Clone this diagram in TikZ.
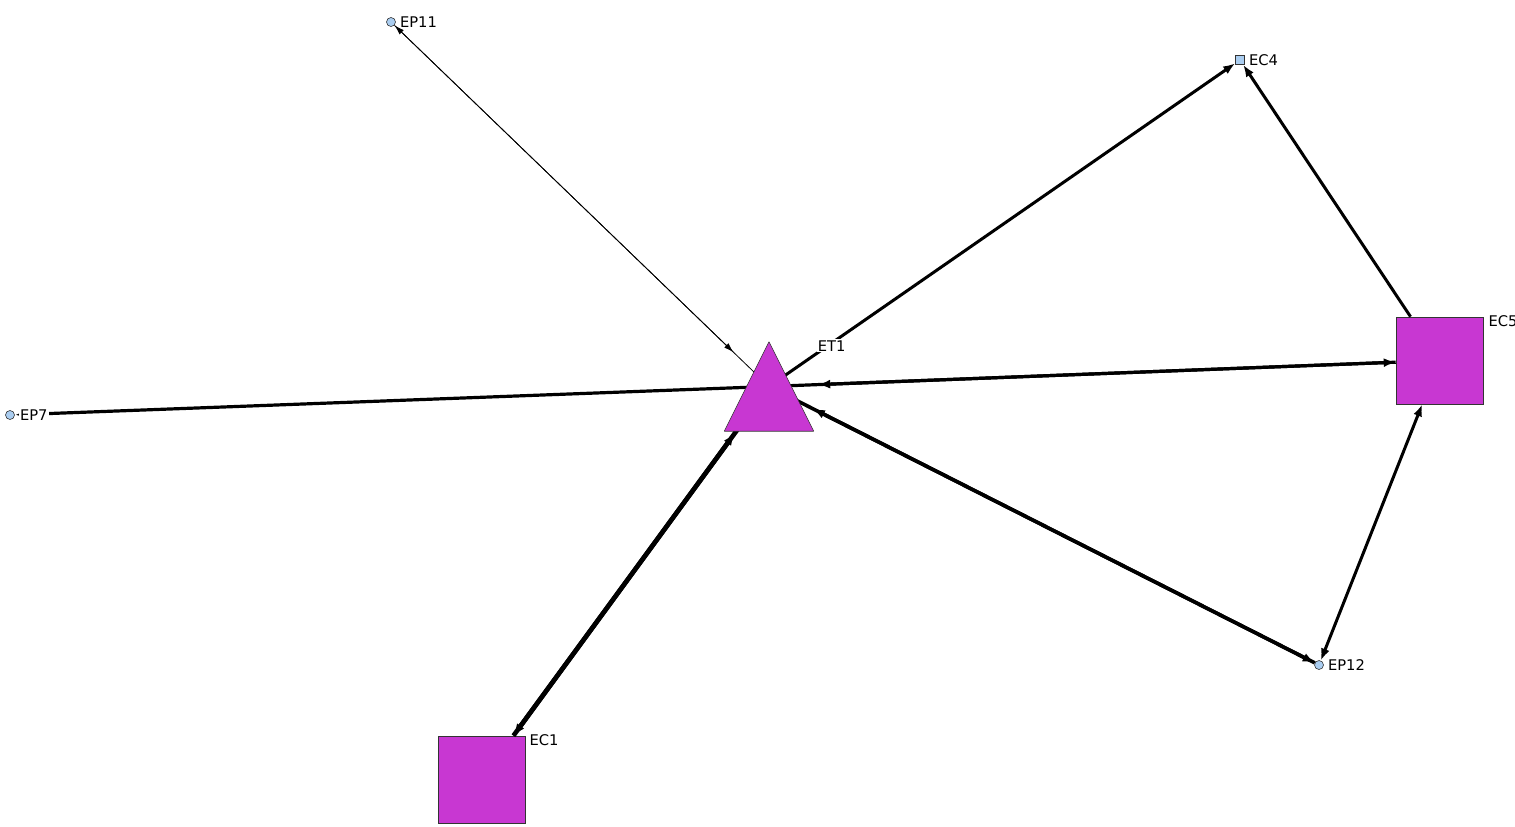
\documentclass[tikz,border=0pt]{standalone}
\usepackage{fontspec}
\setmainfont{DejaVu Sans}
\usetikzlibrary{arrows.meta, positioning}
\definecolor{actorfill}{RGB}{200,55,210}
\definecolor{pointfill}{RGB}{170,205,240}

\begin{document}
\begin{tikzpicture}[x=1pt, y=-1pt,
					>={Latex[length=12pt, width=9pt]},
					big/.style = {draw=black!80, fill=actorfill, line width=0.6pt, minimum size=87pt, inner sep=0pt},
					small/.style = {draw=black!80, fill=pointfill, line width=0.6pt, minimum size=9pt, inner sep=0pt},
					dot/.style = {small, circle},
					hub/.style = {circle, minimum size=98pt, inner sep=0pt},
					tag/.style = {fill=white, inner sep=1pt, font=\fontsize{14.7}{17}\selectfont},
					link/.style = {line width=#1}
				]

				\useasboundingbox (0,0) rectangle (1515,827);

				\node[minimum size=89pt, inner sep=0pt] (ET1box) at (769,386.5) {};
				\node[hub] (ET1) at (ET1box.center) {};
				\node[dot] (EP11) at (391,22) {};
				\node[small] (EC4) at (1240,60) {};
				\node[dot] (EP7) at (10,415) {};
				\node[dot] (EP12) at (1319,665) {};
				\node[big] (EC5) at (1439.5,360.5) {};
				\node[big] (EC1) at (481.5,779.5) {};

				% lines run into the triangle, tips sit on the hub circle
				\draw[link=0.8pt] (EP11) -- (ET1.center);
				\draw[link=0.8pt, <->, >={Latex[length=10pt, width=6pt]}] (EP11) -- (ET1);
				\draw[link=3pt, ->] (ET1.center) -- (EC4);
				\draw[link=3pt, ->] (EC5) -- (EC4);
				\draw[link=3.2pt, ->] (ET1.center) -- (EP7);
				\draw[link=3.2pt] (EC5) -- (ET1.center);
				\draw[link=3.2pt, <->] (EC5) -- (ET1);
				\draw[link=3.6pt] (EP12) -- (ET1.center);
				\draw[link=3.6pt, <->] (EP12) -- (ET1);
				\draw[link=3pt, <->] (EC5) -- (EP12);
				\draw[link=4.6pt] (EC1) -- (ET1.center);
				\draw[link=4.6pt, <->, shorten >=9pt] (EC1) -- (ET1);

				\filldraw[draw=black!80, fill=actorfill, line width=0.6pt, line join=round]
					(ET1box.north) -- (ET1box.south west) -- (ET1box.south east) -- cycle;

				\node[tag, right=3pt of EP11] (EP11-tag) {EP11};
				\node[tag, right=3pt of EC4] (EC4-tag) {EC4};
				\node[tag, right=4pt of EP7] (EP7-tag) {EP7};
				\node[tag, right=3pt of EP12] (EP12-tag) {EP12};
				\node[tag, right=3pt of ET1box.north east, yshift=-4pt] (ET1-tag) {ET1};
				\node[tag, right=4pt of EC5.north east, yshift=-4pt] (EC5-tag) {EC5};
				\node[tag, right=3pt of EC1.north east, yshift=-4pt] (EC1-tag) {EC1};
			\end{tikzpicture}
\end{document}
